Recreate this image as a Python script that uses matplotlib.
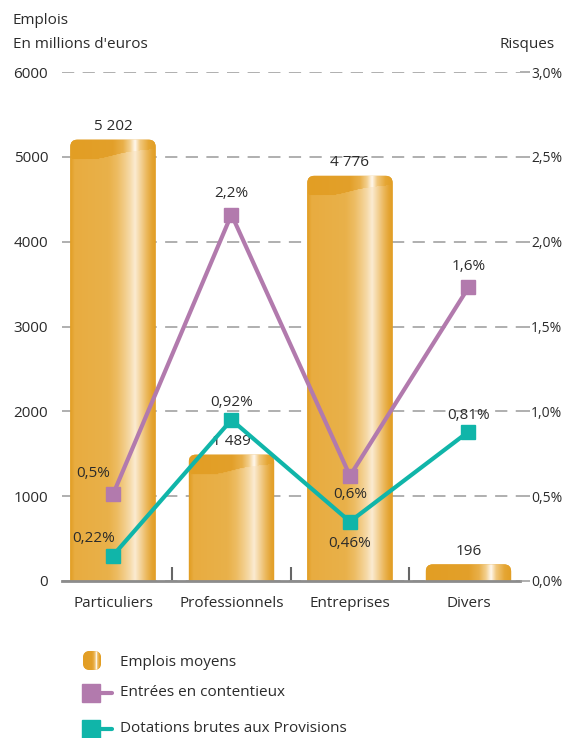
import numpy as np
import matplotlib
matplotlib.use("Agg")
import matplotlib.pyplot as plt
from matplotlib.patches import FancyBboxPatch
from matplotlib.colors import to_rgb

plt.rcParams['font.family'] = ['Open Sans', 'DejaVu Sans']

# Données
categories = ["Particuliers", "Professionnels", "Entreprises", "Divers"]
emplois = [5202, 1489, 4776, 196]
emplois_txt = ["5 202", "1 489", "4 776", "196"]
contentieux = [0.51, 2.16, 0.62, 1.73]          # position tracée (%)
contentieux_txt = ["0,5%", "2,2%", "0,6%", "1,6%"]
dotations = [0.15, 0.95, 0.35, 0.88]            # position tracée (%)
dotations_txt = ["0,22%", "0,92%", "0,46%", "0,81%"]
left_ticks = [0, 1000, 2000, 3000, 4000, 5000, 6000]
right_ticks = ["0,0%", "0,5%", "1,0%", "1,5%", "2,0%", "2,5%", "3,0%"]

ORANGE = "#E3A028"
VIOLET = "#B27AAD"
TEAL = "#10B5A9"
GRIS = "#8c8c8c"
TXT = "#2b2b2b"
FS = 11

W, H = 562, 738
fig = plt.figure(figsize=(W / 100, H / 100), dpi=100)
ax_l, ax_r, ax_b, ax_t = 62, 520, 581, 72
ax = fig.add_axes([ax_l / W, 1 - ax_b / H, (ax_r - ax_l) / W, (ax_b - ax_t) / H])
x = np.arange(len(categories))
xmin, xmax = -0.43, 3.435
ax.set_xlim(xmin, xmax)
ax.set_ylim(0, 6000)

px_x = (ax_r - ax_l) / (xmax - xmin)   # pixels par unité x
px_y = (ax_b - ax_t) / 6000.0          # pixels par unité y


def couleur_grad(stops, n):
    pos = [s[0] for s in stops]
    cols = np.array([to_rgb(s[1]) for s in stops])
    f = np.linspace(0, 1, n)
    return np.stack([np.interp(f, pos, cols[:, k]) for k in range(3)], axis=1)


top_stops = [(0, "#E29E24"), (0.5, "#E3A02A"), (0.62, "#E9B04A"), (0.7, "#F3D08E"),
             (0.76, "#FFF8EE"), (0.82, "#F1C87E"), (0.92, "#E5A633"), (1, "#E29E24")]
body_stops = [(0, "#E29E24"), (0.05, "#E8AC40"), (0.45, "#E9B14A"), (0.55, "#EDBC62"),
              (0.63, "#F2CB85"), (0.7, "#F6DAA8"), (0.76, "#FBEBD2"), (0.83, "#F3D196"),
              (0.9, "#EBB75A"), (0.96, "#E4A432"), (1, "#E29E24")]


def barre(axe, xc, h, larg, px_x, px_y, ombre=True, y0=0, ext=150):
    x0, x1 = xc - larg / 2, xc + larg / 2
    nw = int(larg * px_x)
    nh = max(int(h * px_y), 2)
    top = couleur_grad(top_stops, nw)
    body = couleur_grad(body_stops, nw)
    f = np.linspace(0, 1, nw)
    vague = 19 + 2.5 * np.sin(f * np.pi * 1.1) - 9 * (1 / (1 + np.exp(-(f - 0.45) * 10)))
    img = np.zeros((nh, nw, 3))
    rows = np.arange(nh)[:, None]
    masque = (rows < vague[None, :]) | (not ombre)
    img[:] = np.where(masque[..., None], top[None, :, :], body[None, :, :])
    rond = 7 / px_x
    patch = FancyBboxPatch((x0, y0 - ext), larg, h + ext,
                           boxstyle=f"round,pad=0,rounding_size={rond}",
                           mutation_aspect=px_x / px_y, facecolor=ORANGE,
                           edgecolor="none", zorder=2)
    axe.add_patch(patch)
    im = axe.imshow(img, extent=[x0, x1, y0, y0 + h], aspect="auto", origin="upper",
                    zorder=2.1, interpolation="bilinear")
    im.set_clip_path(patch)


larg = 0.72
for xi, v in zip(x, emplois):
    barre(ax, xi, v, larg, px_x, px_y, ombre=v > 400)
ax.set_aspect("auto")
ax.set_xlim(xmin, xmax)
ax.set_ylim(0, 6000)

for xi, v, t in zip(x, emplois, emplois_txt):
    ax.annotate(t, (xi, v), xytext=(0, 4), textcoords="offset points",
                ha="center", va="bottom", fontsize=FS, color=TXT, zorder=6)

# grille et axes
ax.set_yticks(left_ticks)
ax.set_yticklabels([str(t) for t in left_ticks], fontsize=FS, color=TXT)
ax.tick_params(axis="y", length=0, pad=10)
ax.yaxis.grid(True, linestyle=(0, (8, 5.5)), color="#9a9a9a", linewidth=1.1, zorder=0)
ax.set_axisbelow(True)
for s in ["left", "right", "top"]:
    ax.spines[s].set_visible(False)
ax.spines["bottom"].set_color(GRIS)
ax.spines["bottom"].set_linewidth(2)
ax.spines["bottom"].set_zorder(5)
ax.set_xticks(x)
ax.set_xticklabels(categories, fontsize=FS, color=TXT)
ax.set_xticks([0.5, 1.5, 2.5], minor=True)
ax.tick_params(axis="x", which="major", length=0, pad=11)
ax.tick_params(axis="x", which="minor", direction="in", length=10, width=1.5, color="#666666")

ax2 = ax.twinx()
ax2.set_ylim(0, 3.0)
ax2.set_yticks(np.arange(0, 3.01, 0.5))
ax2.set_yticklabels(right_ticks, fontsize=10, color=TXT)
ax2.tick_params(axis="y", direction="out", length=7, width=1.1, color="#9a9a9a", pad=1)
for s in ax2.spines.values():
    s.set_visible(False)

ax2.plot(x, contentieux, color=VIOLET, lw=3, marker="s", ms=10, zorder=4)
ax2.plot(x, dotations, color=TEAL, lw=3, marker="s", ms=10, zorder=5)

off_c = [(-14, 10), (0, 10), (0, -8), (0, 10)]
off_d = [(-14, 7), (0, 7), (0, -10), (0, 6)]
for xi, v, t, o in zip(x, contentieux, contentieux_txt, off_c):
    ax2.annotate(t, (xi, v), xytext=o, textcoords="offset points", ha="center",
                 va="bottom" if o[1] > 0 else "top", fontsize=FS, color=TXT, zorder=7)
for xi, v, t, o in zip(x, dotations, dotations_txt, off_d):
    ax2.annotate(t, (xi, v), xytext=o, textcoords="offset points", ha="center",
                 va="bottom" if o[1] > 0 else "top", fontsize=FS, color=TXT, zorder=7)

# titres d'axes
fig.text(13 / W, 1 - 20 / H, "Emplois", fontsize=FS, color=TXT, va="center")
fig.text(13 / W, 1 - 44 / H, "En millions d'euros", fontsize=FS, color=TXT, va="center")
fig.text(555 / W, 1 - 44 / H, "Risques", fontsize=FS, color=TXT, va="center", ha="right")

# légende
lg = fig.add_axes([0, 0, 1, 1], zorder=10)
lg.set_xlim(0, W)
lg.set_ylim(H, 0)
lg.axis("off")
barre(lg, 92, 19, 18, 1, 1, ombre=False, y0=651, ext=0)
lg.set_xlim(0, W)
lg.set_ylim(H, 0)
lg.text(120, 662, "Emplois moyens", fontsize=FS, color=TXT, va="center")
for yy, col, lab in [(693, VIOLET, "Entrées en contentieux"),
                     (729, TEAL, "Dotations brutes aux Provisions")]:
    lg.plot([91, 112], [yy, yy], color=col, lw=3, solid_capstyle="round")
    lg.plot([91], [yy], marker="s", ms=13, color=col)
    lg.text(120, yy, lab, fontsize=FS, color=TXT, va="center")

fig.savefig("out.png", dpi=100)
